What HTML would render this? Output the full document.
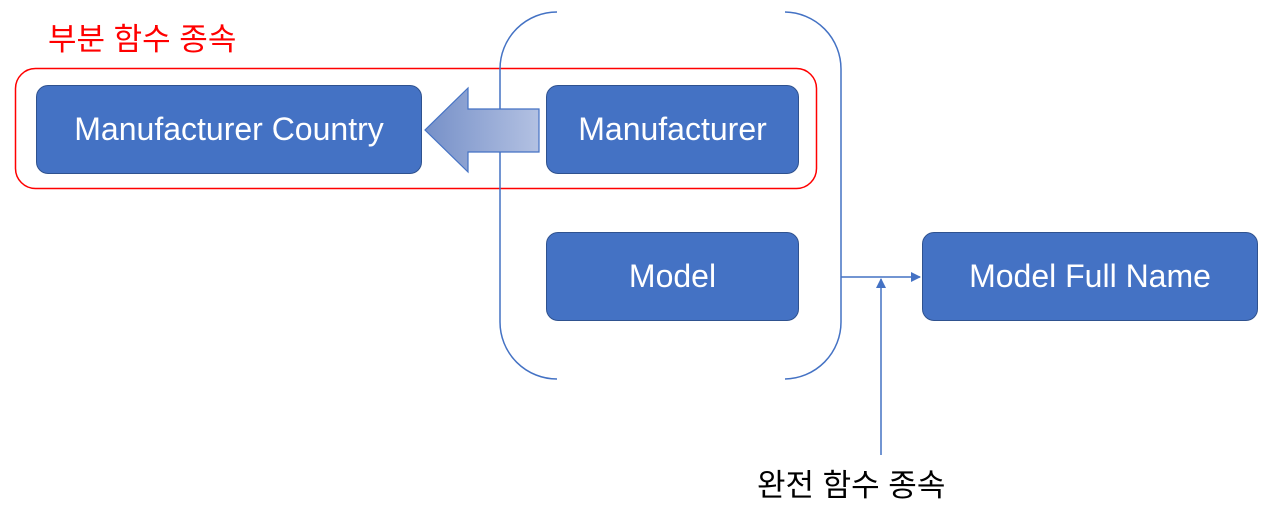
<!DOCTYPE html>
<html><head><meta charset="utf-8"><style>
body{margin:0;width:1280px;height:526px;background:#fff;overflow:hidden;position:relative;font-family:"Liberation Sans","Noto Sans CJK KR",sans-serif}
.b{position:absolute;background:#4472c4;border:1.5px solid #2f528f;border-radius:12px;color:#fff;font-size:32px;display:flex;align-items:center;justify-content:center;box-sizing:border-box}
.t{position:absolute;font-size:31px;white-space:nowrap}
</style></head><body>
<svg width="1280" height="526" style="position:absolute;left:0;top:0">
<defs><linearGradient id="g" x1="0" x2="1"><stop offset="0" stop-color="#7690c8"/><stop offset="1" stop-color="#b3c1e2"/></linearGradient>
<marker id="m" markerWidth="10" markerHeight="10" refX="9" refY="5" orient="auto" markerUnits="userSpaceOnUse"><path d="M0,0 L10,5 L0,10z" fill="#4472c4"/></marker></defs>
<rect x="15.5" y="68.5" width="801" height="120" rx="20" fill="none" stroke="#ff0000" stroke-width="1.5"/>
<path d="M557,12 A57,57 0 0 0 500,69 L500,322 A57,57 0 0 0 557,379" fill="none" stroke="#4472c4" stroke-width="1.5"/>
<path d="M785,12 A57,57 0 0 1 841,69 L841,322 A57,57 0 0 1 785,379" fill="none" stroke="#4472c4" stroke-width="1.5"/>
<path d="M539,109 L468,109 L468,88 L425,130 L468,172 L468,152 L539,152 Z" fill="url(#g)" stroke="#4472c4" stroke-width="1.2"/>
<line x1="841" y1="277" x2="920" y2="277" stroke="#4472c4" stroke-width="1.5" marker-end="url(#m)"/>
<line x1="881" y1="455" x2="881" y2="279" stroke="#4472c4" stroke-width="1.5" marker-end="url(#m)"/>
</svg>
<div class="b" style="left:36px;top:85px;width:386px;height:89px">Manufacturer Country</div>
<div class="b" style="left:546px;top:85px;width:253px;height:89px">Manufacturer</div>
<div class="b" style="left:546px;top:232px;width:253px;height:89px">Model</div>
<div class="b" style="left:922px;top:232px;width:336px;height:89px">Model Full Name</div>
<div class="t" style="left:48px;top:14px;color:#ff0000">부분 함수 종속</div>
<div class="t" style="left:757px;top:460px;color:#000">완전 함수 종속</div>
</body></html>
